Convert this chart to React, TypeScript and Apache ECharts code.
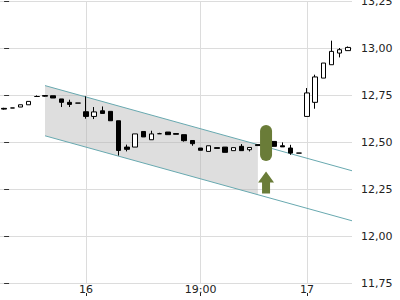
import React, { useEffect, useRef } from 'react';
import * as echarts from 'echarts';

// [open, close, low, high]
const ohlc: number[][] = [
  [12.679, 12.675, 12.672, 12.682],
  [12.681, 12.681, 12.681, 12.681],
  [12.686, 12.698, 12.686, 12.698],
  [12.698, 12.716, 12.698, 12.716],
  [12.742, 12.742, 12.742, 12.748],
  [12.747, 12.744, 12.741, 12.749],
  [12.746, 12.734, 12.734, 12.746],
  [12.729, 12.711, 12.686, 12.729],
  [12.711, 12.700, 12.686, 12.725],
  [12.707, 12.707, 12.707, 12.707],
  [12.661, 12.636, 12.624, 12.743],
  [12.636, 12.660, 12.622, 12.686],
  [12.666, 12.652, 12.652, 12.689],
  [12.663, 12.613, 12.613, 12.663],
  [12.613, 12.455, 12.428, 12.613],
  [12.473, 12.461, 12.450, 12.486],
  [12.473, 12.543, 12.473, 12.543],
  [12.556, 12.527, 12.527, 12.556],
  [12.512, 12.543, 12.512, 12.560],
  [12.544, 12.544, 12.544, 12.549],
  [12.553, 12.539, 12.539, 12.553],
  [12.545, 12.541, 12.541, 12.545],
  [12.539, 12.507, 12.502, 12.539],
  [12.508, 12.491, 12.480, 12.508],
  [12.468, 12.456, 12.456, 12.468],
  [12.450, 12.480, 12.450, 12.480],
  [12.470, 12.466, 12.466, 12.470],
  [12.473, 12.445, 12.445, 12.473],
  [12.454, 12.470, 12.454, 12.470],
  [12.477, 12.454, 12.454, 12.489],
  [12.459, 12.471, 12.450, 12.471],
  [12.486, 12.481, 12.481, 12.486],
  [12.498, 12.489, 12.489, 12.512],
  [12.503, 12.477, 12.477, 12.503],
  [12.480, 12.474, 12.474, 12.498],
  [12.468, 12.441, 12.432, 12.485],
  [12.441, 12.441, 12.441, 12.441],
  [12.636, 12.761, 12.636, 12.787],
  [12.711, 12.846, 12.677, 12.858],
  [12.840, 12.920, 12.840, 12.920],
  [12.911, 12.982, 12.911, 13.039],
  [12.973, 12.991, 12.950, 13.000],
  [12.986, 13.003, 12.986, 13.008],
];

const categories: string[] = ohlc.map((_, i) => 'c' + i);
const xTickLabels: Record<number, string> = { 10: '16', 24: '19:00', 37: '17' };
const yMin = 11.75;
const yMax = 13.25;
const yStep = 0.25;

const channelTop: number[][] = [[5, 12.8], [42.5, 12.347]];
const channelBottom: number[][] = [[5, 12.533], [42.5, 12.081]];
const shadeEnd = 31;
const signalBar: number[][] = [[32, 12.495]];
const signalArrow: number[][] = [[32, 12.284]];

const GREEN = '#6a7c38';
const TEAL = '#68a9b0';
const GRID = '#dcdcdc';

function lerpAt(line: number[][], x: number): number[] {
  const [[x0, y0], [x1, y1]] = line;
  return [x, y0 + ((y1 - y0) * (x - x0)) / (x1 - x0)];
}

export default function App() {
  const ref = useRef<HTMLDivElement>(null);
  useEffect(() => {
    if (!ref.current) return;
    const chart = echarts.init(ref.current, undefined, { renderer: 'svg' });
    const showIdx = (i: number) => xTickLabels[i] !== undefined;
    const font = 'DejaVu Sans';
    chart.setOption({
      animation: false,
      grid: { left: 0, right: 48, top: 1, bottom: 17, containLabel: false, outerBoundsMode: 'none' },
      xAxis: [
        {
          type: 'category',
          data: categories,
          boundaryGap: true,
          axisLine: { show: false },
          axisTick: { show: false },
          axisLabel: {
            interval: (i: number) => showIdx(i),
            formatter: (_v: string, i: number) => xTickLabels[i] ?? '',
            margin: 1,
            fontSize: 11,
            color: '#222',
            fontFamily: font,
          },
          splitLine: {
            show: true,
            interval: (i: number) => showIdx(i),
            alignWithLabel: true,
            lineStyle: { color: GRID, width: 1 },
          },
        },
        { type: 'value', min: -0.5, max: categories.length - 0.5, show: false },
        {
          type: 'category',
          data: categories,
          position: 'bottom',
          offset: 13,
          boundaryGap: true,
          axisLine: { show: false },
          axisLabel: { show: false },
          splitLine: { show: false },
          axisTick: {
            show: true,
            inside: true,
            length: 3,
            alignWithLabel: true,
            interval: (i: number) => showIdx(i),
            lineStyle: { color: '#222' },
          },
        },
      ],
      yAxis: {
        type: 'value',
        position: 'right',
        min: yMin,
        max: yMax,
        interval: yStep,
        axisLine: { show: false },
        axisTick: { show: true, length: 5, lineStyle: { color: '#333' } },
        axisLabel: {
          formatter: (v: number) => v.toFixed(2).replace('.', ','),
          margin: 9,
          fontSize: 11,
          color: '#222',
          fontFamily: font,
        },
        splitLine: { show: true, lineStyle: { color: GRID, width: 1 } },
      },
      series: [
        {
          type: 'custom',
          xAxisIndex: 1,
          silent: true,
          z: 1,
          data: [[0]],
          renderItem: (_p: any, api: any) => {
            const pts = [
              channelTop[0],
              lerpAt(channelTop, shadeEnd),
              lerpAt(channelBottom, shadeEnd),
              channelBottom[0],
            ].map((p) => api.coord(p));
            return {
              type: 'polygon',
              shape: { points: pts },
              style: { fill: 'rgba(180,180,180,0.44)' },
            };
          },
        },
        {
          type: 'line',
          xAxisIndex: 1,
          data: channelTop,
          symbol: 'none',
          silent: true,
          z: 3,
          lineStyle: { color: TEAL, width: 1 },
        },
        {
          type: 'line',
          xAxisIndex: 1,
          data: channelBottom,
          symbol: 'none',
          silent: true,
          z: 3,
          lineStyle: { color: TEAL, width: 1 },
        },
        {
          type: 'candlestick',
          xAxisIndex: 0,
          data: ohlc,
          barWidth: 5,
          z: 4,
          itemStyle: {
            color: '#ffffff',
            color0: '#000000',
            borderColor: '#000000',
            borderColor0: '#000000',
            borderWidth: 1,
          },
        },
        {
          type: 'scatter',
          xAxisIndex: 1,
          data: signalBar,
          symbol: 'path://M0,6 A6,6 0 0 1 12,6 L12,30 A6,6 0 0 1 0,30 Z',
          symbolSize: [12, 36],
          silent: true,
          z: 5,
          itemStyle: { color: GREEN, opacity: 1 },
        },
        {
          type: 'scatter',
          xAxisIndex: 1,
          data: signalArrow,
          symbol: 'path://M8,0 L16,11 L12,11 L12,22 L4,22 L4,11 L0,11 Z',
          symbolSize: [16, 22],
          silent: true,
          z: 5,
          itemStyle: { color: GREEN, opacity: 1 },
        },
      ],
    });
    return () => chart.dispose();
  }, []);
  return (
    <div
      ref={ref}
      style={{ position: 'fixed', left: 0, top: 0, width: 400, height: 300, background: '#fff' }}
    />
  );
}
